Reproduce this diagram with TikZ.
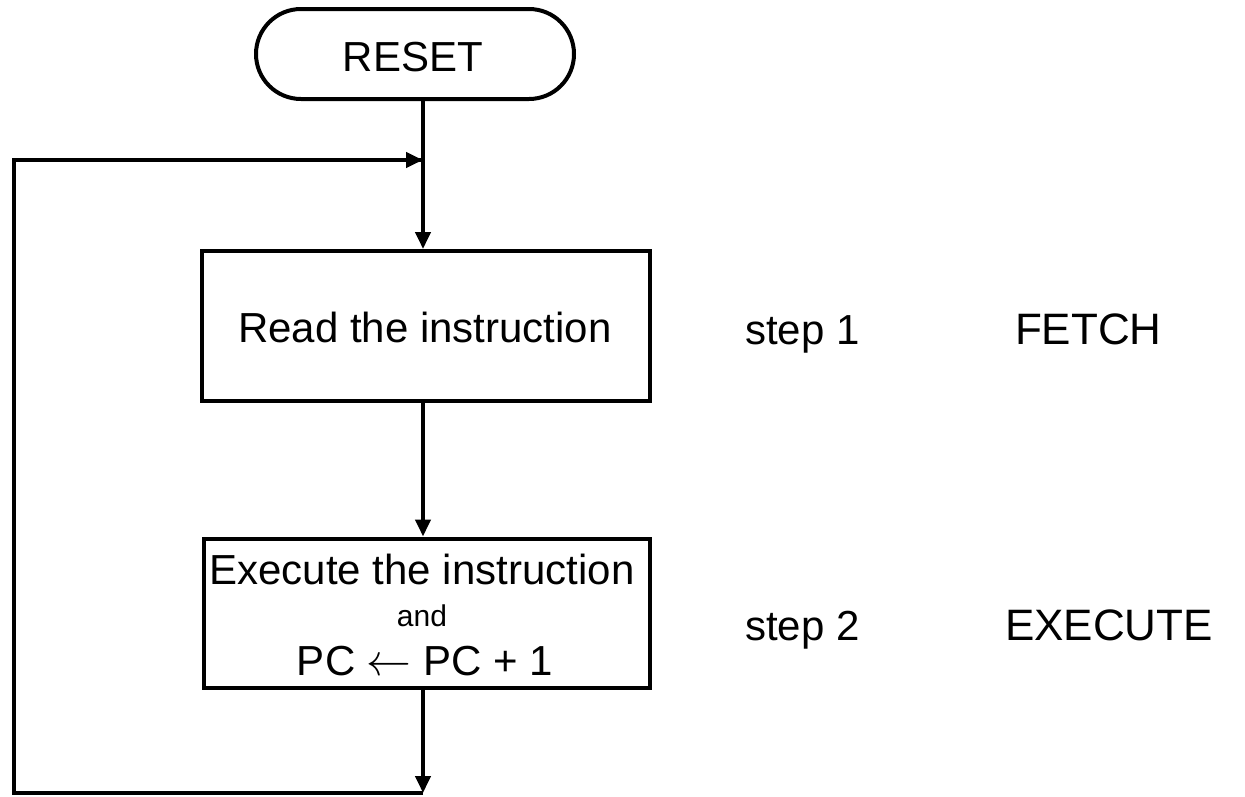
\documentclass[tikz,border=0pt]{standalone}
\usepackage{fontspec}
\setmainfont{Liberation Sans}
\usepackage{graphicx}
\usetikzlibrary{arrows.meta}
\begin{document}
\begin{tikzpicture}[x=1pt,y=-1pt,
  line width=4pt,
  arr/.style={-{Triangle[length=17pt,width=15pt]}},
  bigtxt/.style={font=\fontsize{42}{50}\selectfont, inner sep=0pt},
  captxt/.style={font=\fontsize{44}{50}\selectfont, inner sep=0pt},
  smalltxt/.style={font=\fontsize{30}{36}\selectfont, inner sep=0pt},
  boxnode/.style={draw, rectangle, inner sep=0pt}]
\useasboundingbox (0,0) rectangle (1245,796);
% terminal
\node[draw, inner sep=0pt, minimum width=318pt, minimum height=90pt, rounded corners=45pt] (reset) at (415,54) {};
\node[bigtxt, anchor=base] (resettxt) at (413,71) {RESET};
% boxes
\node[boxnode, minimum width=448pt, minimum height=150pt] (box1) at (426,326) {};
\node[bigtxt, anchor=base] (box1txt) at (425,342) {Read the instruction};
\node[boxnode, minimum width=446pt, minimum height=149pt] (box2) at (427,613) {};
\node[bigtxt, anchor=base] (l1) at (422,584) {Execute the instruction};
\node[smalltxt, anchor=base] (l2) at (422,626) {and};
\node[bigtxt, anchor=base] (l3) at (425,675) {PC \scalebox{1.8}{$\leftarrow$} PC + 1};
% side labels
\node[bigtxt, anchor=base west] (s1) at (743,344) {step 1};
\node[captxt, anchor=base west] (f1) at (1013,344) {FETCH};
\node[bigtxt, anchor=base west] (s2) at (743,640) {step 2};
\node[captxt, anchor=base west] (e2) at (1003,640) {EXECUTE};
% connectors
\coordinate (join) at (423,160);
\coordinate (bot) at (423,793);
\coordinate (botleft) at (14,793);
\coordinate (topleft) at (14,160);
\draw (reset.south -| join) -- (join);
\draw[arr] (join) -- (join |- box1.north);
\draw[arr] (box1.south -| join) -- (join |- box2.north);
\draw[arr] (box2.south -| join) -- (bot);
\draw[line join=miter] (bot) -- (botleft) -- (topleft) -- ([xshift=-2pt]join);
\draw[arr] (topleft) -- (join);
\end{tikzpicture}
\end{document}
